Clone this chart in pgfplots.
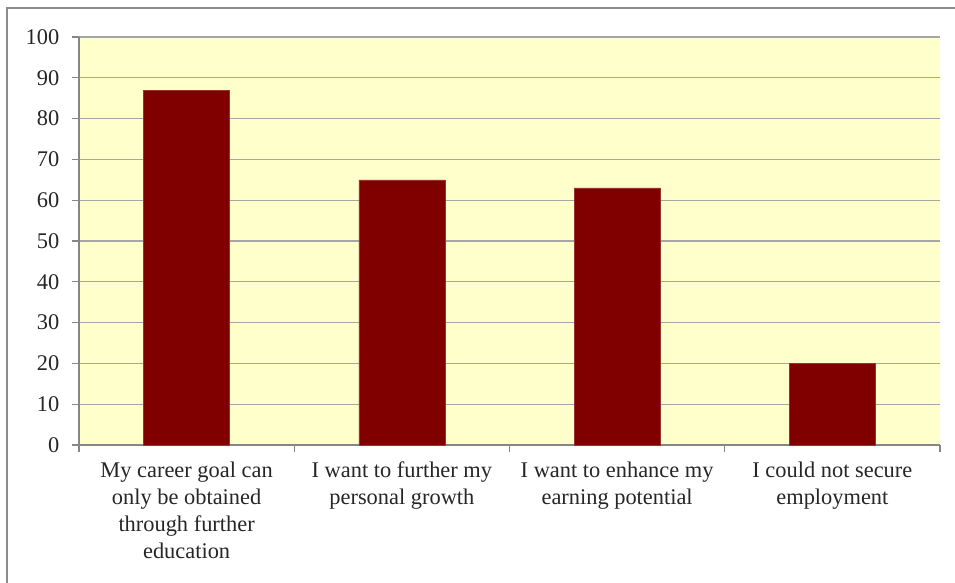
\documentclass[border=0pt]{standalone}
\usepackage{pgfplots}
\pgfplotsset{compat=1.18}
\usepackage{fontspec}
\setmainfont{Liberation Serif}
\definecolor{barred}{HTML}{800000}
\definecolor{bgyellow}{HTML}{FFFFCC}
\definecolor{gridgray}{HTML}{A6A6A6}
\definecolor{axgray}{HTML}{868686}
\definecolor{framegray}{HTML}{8C8C8C}
\definecolor{txt}{HTML}{262626}
\begin{document}
\begin{tikzpicture}[x=0.75pt,y=0.75pt]
\draw[framegray,line width=1.5pt] (7,-20) -- (7,574) -- (980,574);
\begin{axis}[
  at={(79*0.75pt,137*0.75pt)}, anchor=south west,
  scale only axis,
  width=645.75pt, height=306pt,
  xmin=-0.5, xmax=3.5, ymin=0, ymax=100,
  axis background/.style={fill=bgyellow},
  axis x line*=bottom, axis y line*=left,
  axis line style={axgray,line width=0.8pt},
  ytick={0,10,...,100},
  ymajorgrids, grid style={gridgray,line width=0.8pt},
  xtick={0,1,2,3},
  xticklabels={{My career goal can\\only be obtained\\through further\\education},{I want to further my\\personal growth},{I want to enhance my\\earning potential},{I could not secure\\employment}},
  major x tick style={draw=none},
  minor xtick={-0.5,0.5,1.5,2.5,3.5},
  minor x tick style={axgray,line width=0.8pt},
  minor tick length=5.25pt,
  major tick length=5.25pt,
  tick align=outside,
  y tick style={axgray,line width=0.8pt},
  tick label style={font=\fontsize{16.8}{20.25}\selectfont, text=txt},
  xticklabel style={align=center, yshift=-4pt},
  yticklabel style={xshift=-6pt},
  /pgf/number format/assume math mode=true,
  ybar, bar width=64.5pt,
  clip=false,
]
\addplot[fill=barred, draw=barred!80!white, line width=0.4pt] coordinates {(0,87) (1,65) (2,63) (3,20)};
\end{axis}
\pgfresetboundingbox
\useasboundingbox (0,0) rectangle (955,582);
\end{tikzpicture}
\end{document}
